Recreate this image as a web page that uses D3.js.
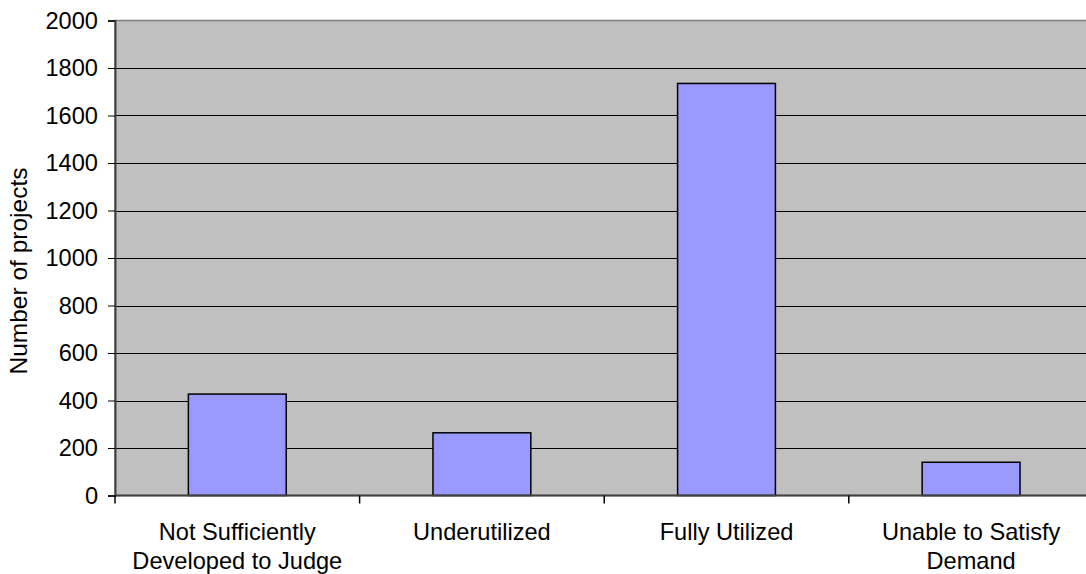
<!DOCTYPE html>
<html>
<head>
<meta charset="utf-8">
<script src="https://cdn.jsdelivr.net/npm/d3@7/dist/d3.min.js"></script>
<style>
  html, body { margin: 0; padding: 0; background: #fff; }
  svg { display: block; overflow: hidden; }
  text { font-family: "Liberation Sans", Arial, sans-serif; fill: #000; }
</style>
</head>
<body>
<svg id="chart" width="1086" height="574"></svg>
<script>
// Project counts by utilization status
const categories = [
  ["Not Sufficiently", "Developed to Judge"],
  ["Underutilized"],
  ["Fully Utilized"],
  ["Unable to Satisfy", "Demand"]
];
const values = [427, 264, 1735, 140];
const yTicks = [0, 200, 400, 600, 800, 1000, 1200, 1400, 1600, 1800, 2000];
const yLabel = "Number of projects";

const plot = { left: 115, top: 20.5, bottom: 495.5, step: 244.6 };
plot.right = plot.left + plot.step * categories.length;
const fontSize = "23.6px";

const svg = d3.select("#chart");

const x = d3.scaleBand()
  .domain(d3.range(categories.length))
  .range([plot.left, plot.right])
  .paddingInner(0).paddingOuter(0);

const y = d3.scaleLinear()
  .domain([0, 2000])
  .range([plot.bottom, plot.top]);

// plot background
svg.append("rect")
  .attr("x", plot.left).attr("y", plot.top)
  .attr("width", plot.right - plot.left)
  .attr("height", plot.bottom - plot.top)
  .attr("fill", "#c0c0c0")
  .attr("stroke", "#808080")
  .attr("stroke-width", 1.5);

// horizontal gridlines
svg.append("g")
  .selectAll("line")
  .data(yTicks.filter(d => d > 0 && d < 2000))
  .join("line")
  .attr("x1", plot.left).attr("x2", plot.right)
  .attr("y1", d => Math.round(y(d)) + 0.5)
  .attr("y2", d => Math.round(y(d)) + 0.5)
  .attr("stroke", "#000")
  .attr("stroke-width", 1);

// bars
const barW = x.bandwidth() / 2.5;
svg.append("g")
  .selectAll("rect")
  .data(values)
  .join("rect")
  .attr("x", (d, i) => x(i) + x.bandwidth() / 2 - barW / 2)
  .attr("y", d => y(d))
  .attr("width", barW)
  .attr("height", d => y(0) - y(d))
  .attr("fill", "#9999ff")
  .attr("stroke", "#000")
  .attr("stroke-width", 1.5);

// y axis
const yAxis = svg.append("g")
  .attr("transform", `translate(${plot.left},0)`)
  .call(d3.axisLeft(y).tickValues(yTicks).tickSize(7).tickPadding(10).tickFormat(d3.format("d")));
yAxis.select(".domain").attr("stroke", "#404040").attr("stroke-width", 2);
yAxis.selectAll(".tick line").attr("stroke", "#000");
yAxis.selectAll(".tick text")
  .style("font-family", "'Liberation Sans', Arial, sans-serif")
  .style("font-size", fontSize)
  .attr("fill", "#000");

// x axis: baseline plus category separator ticks
svg.append("line")
  .attr("x1", plot.left).attr("x2", plot.right)
  .attr("y1", plot.bottom).attr("y2", plot.bottom)
  .attr("stroke", "#404040").attr("stroke-width", 2);
svg.append("g")
  .selectAll("line")
  .data(d3.range(categories.length + 1))
  .join("line")
  .attr("x1", i => plot.left + i * x.step())
  .attr("x2", i => plot.left + i * x.step())
  .attr("y1", plot.bottom)
  .attr("y2", plot.bottom + 8)
  .attr("stroke", "#000")
  .attr("stroke-width", 1.5);

// category labels
const lbl = svg.append("g")
  .selectAll("text")
  .data(categories)
  .join("text")
  .attr("text-anchor", "middle")
  .style("font-size", fontSize)
  .attr("transform", (d, i) => `translate(${x(i) + x.bandwidth() / 2},539.5)`);
lbl.selectAll("tspan")
  .data(d => d)
  .join("tspan")
  .attr("x", 0)
  .attr("y", (d, j) => j * 29.5)
  .text(d => d);

// y axis title
svg.append("text")
  .attr("transform", "translate(27,271) rotate(-90)")
  .attr("text-anchor", "middle")
  .style("font-size", "24.5px")
  .text(yLabel);
</script>
</body>
</html>
